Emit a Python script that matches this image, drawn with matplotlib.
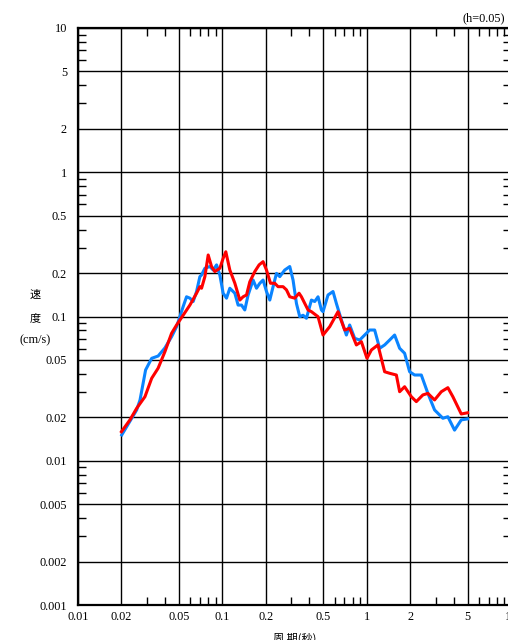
import matplotlib
matplotlib.use("Agg")
import matplotlib.pyplot as plt
from matplotlib.ticker import FixedLocator, NullFormatter
import numpy as np

# 周期 (秒) と速度応答 (cm/s), h=0.05
t_blue = [0.0201, 0.0255, 0.0269, 0.0294, 0.0324, 0.0359, 0.0400, 0.0445, 0.0482,
          0.0535, 0.0565, 0.0596, 0.0628, 0.0663, 0.0699, 0.0718, 0.0757, 0.0819,
          0.0864, 0.0912, 0.0961, 0.1013, 0.1069, 0.1127, 0.1221, 0.1286, 0.1358,
          0.1431, 0.1509, 0.1634, 0.1725, 0.1818, 0.1916, 0.2023, 0.2132, 0.2247,
          0.2372, 0.2500, 0.2707, 0.2932, 0.3090, 0.3263, 0.3439, 0.3625, 0.3825,
          0.4143, 0.4367, 0.4603, 0.4859, 0.4984, 0.5398, 0.5846, 0.6171, 0.6683,
          0.7236, 0.7626, 0.8260, 0.8945, 0.9687, 1.049, 1.136, 1.230, 1.332,
          1.443, 1.562, 1.692, 1.832, 1.984, 2.149, 2.391, 2.656, 2.955, 3.373,
          3.652, 4.064, 4.523, 5.0]
v_blue = [0.0151, 0.0225, 0.0264, 0.0426, 0.0513, 0.0532, 0.0605, 0.0724, 0.0850,
          0.117, 0.137, 0.134, 0.127, 0.149, 0.189, 0.194, 0.216, 0.222,
          0.210, 0.228, 0.194, 0.145, 0.134, 0.157, 0.145, 0.120, 0.120,
          0.111, 0.141, 0.179, 0.157, 0.170, 0.179, 0.149, 0.130, 0.161,
          0.199, 0.189, 0.210, 0.222, 0.179, 0.123, 0.0997, 0.102, 0.0972,
          0.130, 0.127, 0.137, 0.111, 0.108, 0.141, 0.149, 0.123, 0.0946,
          0.0744, 0.0873, 0.0706, 0.0687, 0.0744, 0.0806, 0.0806, 0.0602, 0.0635,
          0.0687, 0.0744, 0.0602, 0.0556, 0.0414, 0.0393, 0.0393, 0.0293, 0.0225, 0.0197,
          0.0202, 0.0163, 0.0192, 0.0195]

t_red = [0.0200, 0.0229, 0.0255, 0.0291, 0.0324, 0.0359, 0.0400, 0.0445, 0.0482,
         0.0535, 0.0596, 0.0663, 0.0699, 0.0718, 0.0757, 0.0798, 0.0842, 0.0887,
         0.0961, 0.1013, 0.1057, 0.1127, 0.1221, 0.1322, 0.1393, 0.1471, 0.1550,
         0.1679, 0.1798, 0.1916, 0.2023, 0.2156, 0.2309, 0.2433, 0.2635, 0.2782,
         0.2932, 0.3176, 0.3401, 0.3532, 0.3925, 0.4143, 0.4603, 0.4984, 0.5546,
         0.6331, 0.7044, 0.7626, 0.8486, 0.9190, 1.005, 1.078, 1.197, 1.332,
         1.443, 1.606, 1.692, 1.832, 2.039, 2.208, 2.453, 2.656, 2.955, 3.289,
         3.652, 3.956, 4.523, 5.0]
v_red = [0.0159, 0.0192, 0.0231, 0.0278, 0.0373, 0.0438, 0.0570, 0.0765, 0.0873,
         0.102, 0.120, 0.145, 0.161, 0.157, 0.189, 0.267, 0.222, 0.205,
         0.216, 0.253, 0.281, 0.210, 0.170, 0.130, 0.137, 0.141, 0.174,
         0.205, 0.228, 0.240, 0.210, 0.170, 0.170, 0.161, 0.161, 0.153,
         0.137, 0.134, 0.145, 0.137, 0.111, 0.108, 0.0997, 0.0744, 0.0850,
         0.108, 0.0806, 0.0828, 0.0635, 0.0669, 0.0513, 0.0586, 0.0635, 0.0414,
         0.0404, 0.0393, 0.0301, 0.0326, 0.0278, 0.0257, 0.0286, 0.0293, 0.0264, 0.0301,
         0.0321, 0.0278, 0.0211, 0.0215]

x_major = [0.01, 0.02, 0.05, 0.1, 0.2, 0.5, 1, 2, 5, 10]
x_labels = ["0.01", "0.02", "0.05", "0.1", "0.2", "0.5", "1", "2", "5", "10"]
y_major = [0.001, 0.002, 0.005, 0.01, 0.02, 0.05, 0.1, 0.2, 0.5, 1, 2, 5, 10]
y_labels = ["0.001", "0.002", "0.005", "0.01", "0.02", "0.05", "0.1", "0.2",
            "0.5", "1", "2", "5", "10"]

serif = "Liberation Serif"
cjk = ["Noto Sans CJK JP", "DejaVu Sans"]

fig = plt.figure(figsize=(5.08, 6.4), dpi=100)
W, H = 508, 640
# 右端は 10 の位置が画像の外にはみ出す
ax = fig.add_axes([78 / W, (H - 605) / H, (511 - 78) / W, (605 - 28) / H])
ax.set_xscale("log")
ax.set_yscale("log")
ax.set_xlim(0.01, 10)
ax.set_ylim(0.001, 10)

# 補助目盛り 3,4,6,7,8,9
minor = [m * 10.0 ** e for e in range(-3, 1) for m in (3, 4, 6, 7, 8, 9)]
ax.xaxis.set_major_locator(FixedLocator(x_major))
ax.yaxis.set_major_locator(FixedLocator(y_major))
ax.xaxis.set_minor_locator(FixedLocator([m for m in minor if 0.01 < m < 10]))
ax.yaxis.set_minor_locator(FixedLocator(minor))
ax.xaxis.set_minor_formatter(NullFormatter())
ax.yaxis.set_minor_formatter(NullFormatter())
ax.set_xticklabels(x_labels, fontfamily=serif, fontsize=8.8)
ax.set_yticklabels(y_labels, fontfamily=serif, fontsize=8.8)

ax.tick_params(which="major", length=0)
ax.tick_params(axis="x", which="major", pad=4)
ax.tick_params(axis="y", which="major", pad=8)
ax.tick_params(which="minor", direction="in", length=5.5, width=1,
               top=True, right=True, color="black")
ax.grid(True, which="major", color="black", linewidth=1.0)
for s in ax.spines.values():
    s.set_linewidth(1.6)

ax.plot(t_blue, v_blue, color="#0a84ff", linewidth=2.2, zorder=3)
ax.plot(t_red, v_red, color="#ff0000", linewidth=2.2, zorder=4)

fig.text(505 / W, 1 - 18 / H, "(h=0.05)", fontfamily=serif, fontsize=8.8,
         ha="right", va="center")
fig.text(35 / W, 1 - 295 / H, "速", family=cjk, fontsize=8, ha="center", va="center")
fig.text(35 / W, 1 - 318 / H, "度", family=cjk, fontsize=8, ha="center", va="center")
fig.text(35 / W, 1 - 340 / H, "(cm/s)", fontfamily=serif, fontsize=8.8,
         ha="center", va="center")
fig.text(295 / W, 1 - 633 / H, "周 期(秒)", family=cjk, fontsize=8,
         ha="center", va="top")

fig.savefig("out.png", dpi=100)
